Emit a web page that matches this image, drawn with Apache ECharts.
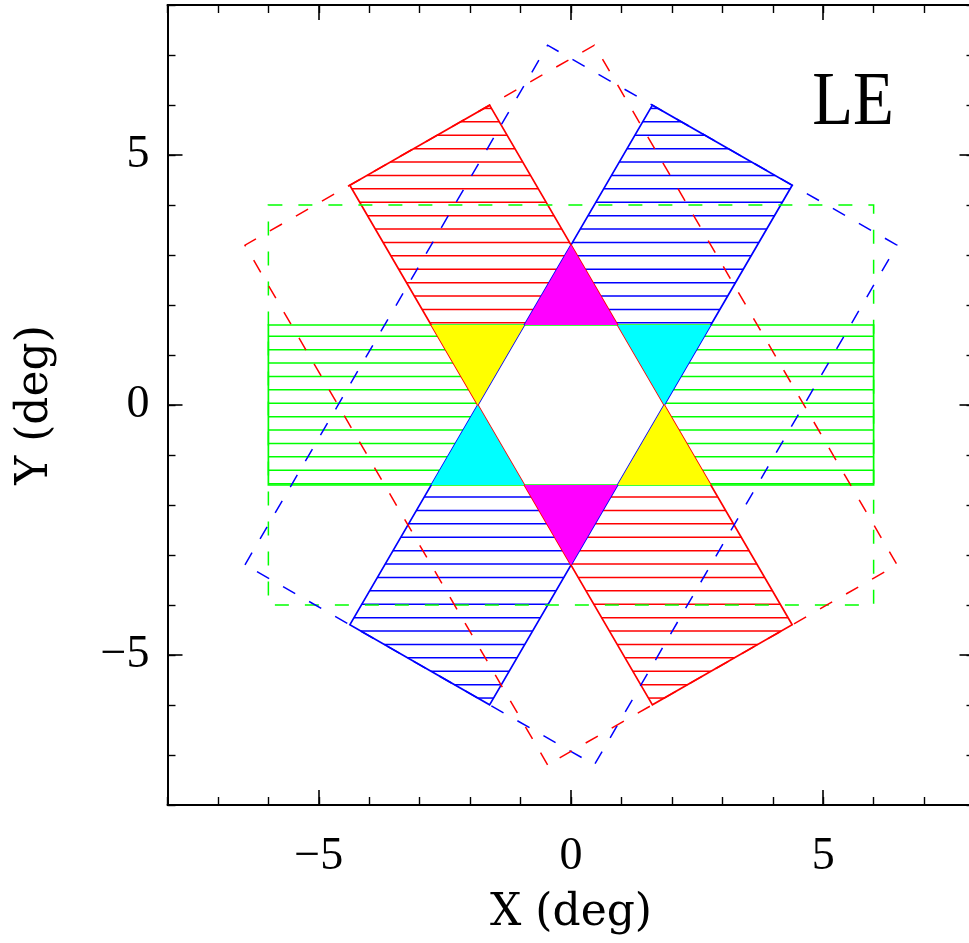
<!DOCTYPE html>
<html>
<head>
<meta charset="utf-8">
<script src="https://cdn.jsdelivr.net/npm/echarts@6/dist/echarts.min.js"></script>
<style>html,body{margin:0;padding:0;background:#fff}#chart{width:969px;height:943px}</style>
</head>
<body>
<div id="chart"></div>
<script>
// ---------- data ----------
const axisMin = -8, axisMax = 8;
const xMajorTicks = [-5, 0, 5];
const yMajorTicks = [-5, 0, 5];
const panelLabel = 'LE';
const xTitle = 'X (deg)';
const yTitle = 'Y (deg)';

// three fields of view (strips), orientation of long axis in degrees
const fovNames = ['FOV 0deg', 'FOV 60deg', 'FOV 120deg'];
const fovAngles = [0, 60, 120];
const fovColors = ['#00ff00', '#0000ff', '#ff0000'];
const fovHalfLength = [6, 6, 6];
const fovHalfWidthSmall = [1.6, 1.6, 1.6];
const fovHalfWidthLarge = [4, 4, 4];

// overlaps of two fields of view (outside the third)
const overlapPairs = [[0, 2], [0, 1], [1, 2]];
const overlapColors = ['#ffff00', '#00ffff', '#ff00ff'];

// hatch pattern
const hatchSpacing = 0.268;
const hatchPhase = 0.035;

// ---------- geometry helpers ----------
function frameOf(i) {
  const t = fovAngles[i] * Math.PI / 180;
  return { u: [Math.cos(t), Math.sin(t)], n: [-Math.sin(t), Math.cos(t)] };
}
function rectCorners(i, w) {
  const { u, n } = frameOf(i), L = fovHalfLength[i];
  const c = (a, b) => [a * L * u[0] + b * w * n[0], a * L * u[1] + b * w * n[1]];
  return [c(-1, 1), c(1, 1), c(1, -1), c(-1, -1)];
}
// keep a.p <= c
function clip(poly, a, c) {
  const out = [];
  for (let k = 0; k < poly.length; k++) {
    const P = poly[k], Q = poly[(k + 1) % poly.length];
    const fp = a[0] * P[0] + a[1] * P[1] - c, fq = a[0] * Q[0] + a[1] * Q[1] - c;
    if (fp <= 0) out.push(P);
    if ((fp < 0 && fq > 0) || (fp > 0 && fq < 0)) {
      const t = fp / (fp - fq);
      out.push([P[0] + t * (Q[0] - P[0]), P[1] + t * (Q[1] - P[1])]);
    }
  }
  return out;
}
function overlapTriangles(i, j, k) {
  const res = [];
  for (const s of [1, -1]) {
    let p = [[-20, -20], [20, -20], [20, 20], [-20, 20]];
    for (const idx of [i, j]) {
      const n = frameOf(idx).n, w = fovHalfWidthSmall[idx];
      p = clip(p, n, w);
      p = clip(p, [-n[0], -n[1]], w);
    }
    const nk = frameOf(k).n, wk = fovHalfWidthSmall[k];
    p = clip(p, [-s * nk[0], -s * nk[1]], -wk);
    if (p.length >= 3) res.push(p);
  }
  return res;
}
function absInterval(a, b, lim) { // x with |a x + b| <= lim
  if (Math.abs(a) < 1e-9) return Math.abs(b) <= lim + 1e-9 ? [-1e9, 1e9] : null;
  const x1 = (-lim - b) / a, x2 = (lim - b) / a;
  return [Math.min(x1, x2), Math.max(x1, x2)];
}
function hatchSegments(i) {
  const segs = [];
  const { u, n } = frameOf(i);
  const others = [0, 1, 2].filter(q => q !== i);
  const kMin = Math.ceil((axisMin - hatchPhase) / hatchSpacing);
  const kMax = Math.floor((axisMax - hatchPhase) / hatchSpacing);
  for (let k = kMin; k <= kMax; k++) {
    const y = hatchPhase + k * hatchSpacing;
    const a = absInterval(u[0], u[1] * y, fovHalfLength[i]);
    const b = absInterval(n[0], n[1] * y, fovHalfWidthSmall[i]);
    if (!a || !b) continue;
    let ivs = [[Math.max(a[0], b[0]), Math.min(a[1], b[1])]];
    if (ivs[0][0] >= ivs[0][1]) continue;
    for (const o of others) {
      const no = frameOf(o).n;
      const cut = absInterval(no[0], no[1] * y, fovHalfWidthSmall[o]);
      if (!cut) continue;
      const nxt = [];
      for (const iv of ivs) {
        if (cut[1] <= iv[0] || cut[0] >= iv[1]) { nxt.push(iv); continue; }
        if (cut[0] > iv[0]) nxt.push([iv[0], cut[0]]);
        if (cut[1] < iv[1]) nxt.push([cut[1], iv[1]]);
      }
      ivs = nxt;
    }
    for (const iv of ivs) if (iv[1] - iv[0] > 1e-6) segs.push([iv[0], y, iv[1], y, i]);
  }
  return segs;
}

// ---------- build drawable items ----------
const hatchData = [];
for (let i = 0; i < fovAngles.length; i++) hatchData.push(...hatchSegments(i));

const solidPolys = fovAngles.map((_, i) => ({ pts: rectCorners(i, fovHalfWidthSmall[i]), color: fovColors[i] }));
const dashedPolys = fovAngles.map((_, i) => ({ pts: rectCorners(i, fovHalfWidthLarge[i]), color: fovColors[i] }));
const triPolys = [];
overlapPairs.forEach((pr, m) => {
  const k = [0, 1, 2].find(q => q !== pr[0] && q !== pr[1]);
  overlapTriangles(pr[0], pr[1], k).forEach(p => triPolys.push({ pts: p, color: overlapColors[m] }));
});

function polySeries(name, polys, styleFn) {
  return {
    type: 'custom', name, xAxisIndex: 0, yAxisIndex: 0, clip: false, silent: true,
    data: polys.map(p => [p.pts[0][0], p.pts[0][1]]),
    renderItem: (params, api) => {
      const p = polys[params.dataIndex];
      return { type: 'polygon', shape: { points: p.pts.map(q => api.coord(q)) }, style: styleFn(p) };
    }
  };
}

const fmt = v => (v < 0 ? '\u2212' + Math.abs(v) : String(v));
const black = '#000';
function majorAxis(pos, ticks, withLabels, name, nameGap) {
  const ax = {
    type: 'value', min: axisMin, max: axisMax, position: pos,
    axisLine: { show: true, onZero: false, lineStyle: { color: black, width: 2 } },
    axisTick: { show: true, inside: true, length: 15, customValues: ticks, lineStyle: { color: black, width: 1.6 } },
    axisLabel: withLabels ? { show: true, customValues: ticks, formatter: fmt, fontFamily: 'Liberation Serif', fontSize: 46, color: black, margin: pos === 'bottom' ? 29 : 18 } : { show: false },
    splitLine: { show: false }
  };
  if (name) {
    ax.name = name; ax.nameLocation = 'middle'; ax.nameGap = nameGap;
    ax.nameTextStyle = { fontFamily: 'DejaVu Serif', fontSize: 44, color: black };
  }
  return ax;
}
function minorAxis(pos) {
  return {
    type: 'value', min: axisMin, max: axisMax, interval: 1, position: pos,
    axisLine: { show: false, onZero: false },
    axisTick: { show: true, inside: true, length: 8, lineStyle: { color: black, width: 1.4 } },
    axisLabel: { show: false }, splitLine: { show: false }
  };
}

const option = {
  animation: false,
  backgroundColor: '#ffffff',
  grid: { left: 167.5, top: 5, width: 807, height: 800, containLabel: false, outerBoundsMode: 'none' },
  xAxis: [
    majorAxis('bottom', xMajorTicks, true, xTitle, 87),
    minorAxis('bottom'),
    majorAxis('top', xMajorTicks, false),
    minorAxis('top')
  ],
  yAxis: [
    majorAxis('left', yMajorTicks, true, yTitle, 110),
    minorAxis('left'),
    majorAxis('right', yMajorTicks, false),
    minorAxis('right')
  ],
  graphic: [{
    type: 'text', x: 853, y: 104, scaleX: 0.88, z: 100,
    style: { text: panelLabel, fontFamily: 'Liberation Serif', fontSize: 76, fill: black, align: 'center', verticalAlign: 'middle' }
  }],
  series: [
    {
      type: 'custom', name: 'hatch', xAxisIndex: 0, yAxisIndex: 0, clip: false, silent: true,
      encode: { x: [0, 2], y: [1, 3] },
      data: hatchData,
      renderItem: (params, api) => {
        const p1 = api.coord([api.value(0), api.value(1)]);
        const p2 = api.coord([api.value(2), api.value(3)]);
        return { type: 'line', shape: { x1: p1[0], y1: p1[1], x2: p2[0], y2: p2[1] },
          style: { stroke: fovColors[api.value(4)], lineWidth: 1.5 } };
      }
    },
    polySeries('outline', solidPolys, p => ({ fill: 'none', stroke: p.color, lineWidth: 1.7 })),
    polySeries('overlap', triPolys, p => ({ fill: p.color, stroke: null })),
    polySeries('wide', dashedPolys, p => ({ fill: 'none', stroke: p.color, lineWidth: 1.5, lineDash: [14, 16] }))
  ]
};
const chart = echarts.init(document.getElementById('chart'), null, { renderer: 'canvas' });
chart.setOption(option);
</script>
</body>
</html>
